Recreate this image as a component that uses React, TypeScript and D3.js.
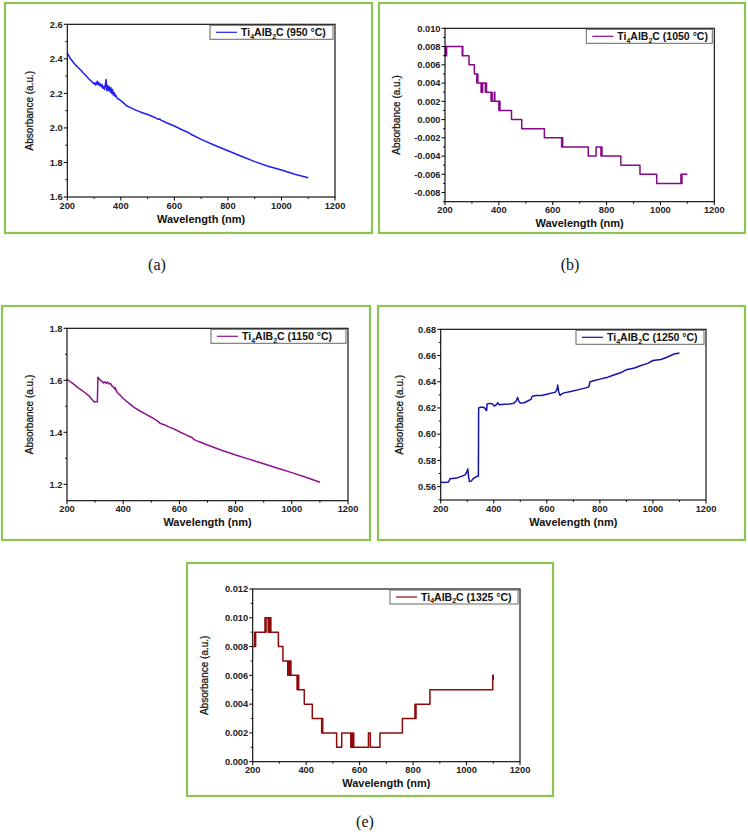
import React from 'react';
import * as d3 from 'd3';

// ---------- DATA ----------
const X_TICKS = [200, 400, 600, 800, 1000, 1200];

const wlA = [200, 205, 210, 220, 230, 240, 250, 260, 270, 280, 290, 295, 300, 303, 306, 309, 312, 315, 318, 321, 324, 327, 330, 333, 336, 339, 342, 345, 348, 351, 354, 357, 360, 363, 366, 369, 372, 375, 378, 381, 385, 390, 400, 410, 420, 440, 460, 480, 500, 520, 530, 535, 540, 545, 550, 570, 600, 630, 650, 660, 700, 750, 800, 850, 900, 950, 1000, 1050, 1100];
const absA = [2.432, 2.42, 2.405, 2.385, 2.365, 2.35, 2.335, 2.318, 2.302, 2.285, 2.27, 2.262, 2.255, 2.262, 2.248, 2.258, 2.27, 2.25, 2.262, 2.245, 2.255, 2.238, 2.25, 2.23, 2.24, 2.222, 2.25, 2.28, 2.215, 2.245, 2.218, 2.238, 2.208, 2.232, 2.2, 2.222, 2.19, 2.205, 2.184, 2.19, 2.175, 2.168, 2.158, 2.145, 2.13, 2.115, 2.1, 2.088, 2.078, 2.065, 2.058, 2.054, 2.05, 2.052, 2.045, 2.03, 2.011, 1.988, 1.975, 1.965, 1.934, 1.9, 1.868, 1.836, 1.805, 1.778, 1.756, 1.732, 1.712];

const wlB = [200, 202, 204, 206, 264, 265, 266, 289, 309, 318, 320, 322, 334, 336, 338, 340, 350, 352, 354, 371, 373, 375, 383, 385, 400, 402, 404, 447, 485, 569, 633, 635, 637, 732, 761, 779, 781, 783, 853, 924, 986, 1076, 1078, 1080, 1100];
const absB = [0.007, 0.008, 0.007, 0.008, 0.007, 0.008, 0.007, 0.006, 0.005, 0.004, 0.005, 0.004, 0.003, 0.004, 0.003, 0.004, 0.003, 0.004, 0.003, 0.002, 0.003, 0.002, 0.003, 0.002, 0.001, 0.002, 0.001, 0.0, -0.001, -0.002, -0.003, -0.002, -0.003, -0.004, -0.003, -0.004, -0.003, -0.004, -0.005, -0.006, -0.007, -0.006, -0.007, -0.006, -0.006];

const wlC = [200, 220, 240, 260, 280, 292, 295, 300, 308, 309, 310, 315, 320, 325, 330, 335, 340, 345, 350, 355, 360, 365, 370, 372, 375, 380, 390, 400, 420, 440, 460, 480, 500, 520, 530, 540, 550, 560, 580, 600, 620, 640, 645, 650, 660, 680, 700, 750, 800, 850, 900, 950, 1000, 1050, 1100];
const absC = [1.604, 1.588, 1.571, 1.556, 1.538, 1.522, 1.518, 1.518, 1.518, 1.56, 1.612, 1.605, 1.598, 1.596, 1.59, 1.594, 1.588, 1.593, 1.586, 1.588, 1.578, 1.575, 1.566, 1.572, 1.56, 1.552, 1.542, 1.53, 1.512, 1.495, 1.482, 1.47, 1.458, 1.445, 1.436, 1.431, 1.428, 1.422, 1.413, 1.402, 1.392, 1.382, 1.38, 1.374, 1.368, 1.36, 1.351, 1.331, 1.313, 1.296, 1.279, 1.262, 1.245, 1.227, 1.208];

const wlD = [200, 215, 230, 235, 260, 280, 292, 298, 302, 305, 308, 315, 322, 330, 338, 342, 343, 350, 360, 366, 370, 373, 375, 385, 395, 402, 410, 415, 420, 440, 460, 475, 485, 490, 495, 500, 515, 530, 540, 545, 560, 580, 600, 620, 632, 638, 641, 645, 650, 655, 665, 690, 720, 750, 758, 763, 780, 800, 830, 850, 880, 900, 930, 950, 980, 1000, 1030, 1050, 1080, 1100];
const absD = [0.5633, 0.5632, 0.5635, 0.566, 0.5665, 0.568, 0.569, 0.571, 0.5735, 0.568, 0.564, 0.5642, 0.566, 0.567, 0.568, 0.568, 0.62, 0.6205, 0.6205, 0.62, 0.6185, 0.618, 0.623, 0.6235, 0.623, 0.6215, 0.6225, 0.624, 0.6225, 0.6228, 0.623, 0.6235, 0.6255, 0.628, 0.625, 0.6238, 0.624, 0.6255, 0.6265, 0.629, 0.6295, 0.6295, 0.6305, 0.6315, 0.632, 0.634, 0.6375, 0.632, 0.6295, 0.6305, 0.6315, 0.6325, 0.634, 0.6355, 0.636, 0.64, 0.641, 0.642, 0.6435, 0.645, 0.647, 0.6492, 0.6505, 0.652, 0.654, 0.6562, 0.657, 0.6585, 0.6612, 0.662];

const wlE = [200, 207, 209, 211, 246, 248, 250, 258, 260, 263, 266, 268, 296, 313, 331, 333, 336, 339, 343, 366, 369, 372, 393, 423, 458, 460, 462, 514, 533, 567, 570, 573, 576, 578, 633, 640, 676, 760, 807, 809, 811, 863, 1098, 1100];
const absE = [0.008, 0.009, 0.008, 0.009, 0.010, 0.009, 0.010, 0.009, 0.010, 0.009, 0.010, 0.009, 0.008, 0.007, 0.006, 0.007, 0.006, 0.007, 0.006, 0.005, 0.006, 0.005, 0.004, 0.003, 0.002, 0.003, 0.002, 0.001, 0.002, 0.001, 0.002, 0.001, 0.002, 0.001, 0.002, 0.001, 0.002, 0.003, 0.004, 0.003, 0.004, 0.005, 0.006, 0.0057];

const ticksA = [1.6, 1.8, 2.0, 2.2, 2.4, 2.6];
const ticksB = [-0.008, -0.006, -0.004, -0.002, 0.0, 0.002, 0.004, 0.006, 0.008, 0.010];
const ticksC = [1.2, 1.4, 1.6, 1.8];
const ticksD = [0.56, 0.58, 0.60, 0.62, 0.64, 0.66, 0.68];
const ticksE = [0.0, 0.002, 0.004, 0.006, 0.008, 0.010, 0.012];

const tempLabels = ['950', '1050', '1150', '1250', '1325'];
const captions = ['(a)', '(b)', '(e)'];

// ---------- LAYOUT ----------
type Cfg = {
  box: [number, number, number, number];
  plot: { l: number; r: number; t: number; b: number };
  yDomain: [number, number];
  yTicks: number[];
  fmt: string;
  wl: number[];
  vals: number[];
  step: boolean;
  color: string;
  temp: string;
  legendW: number;
  yTitleDx: number;
};

const GREEN = '#8dc356';
const FONT = "'Liberation Sans', Arial, sans-serif";

const panels: Cfg[] = [
  { box: [5, 3, 367, 230], plot: { l: 67.3, r: 335, t: 24.3, b: 197 }, yDomain: [1.6, 2.6], yTicks: ticksA, fmt: '.1f', wl: wlA, vals: absA, step: false, color: '#1e1ef5', temp: tempLabels[0], legendW: 123, yTitleDx: -34 },
  { box: [379, 3, 366, 230], plot: { l: 445, r: 714.3, t: 28.3, b: 201.7 }, yDomain: [-0.009, 0.010], yTicks: ticksB, fmt: '.3f', wl: wlB, vals: absB, step: true, color: '#86088a', temp: tempLabels[1], legendW: 126, yTitleDx: -45 },
  { box: [2, 306, 368, 234], plot: { l: 67, r: 348, t: 328.3, b: 500.7 }, yDomain: [1.137, 1.8], yTicks: ticksC, fmt: '.1f', wl: wlC, vals: absC, step: false, color: '#8e128e', temp: tempLabels[2], legendW: 135, yTitleDx: -34 },
  { box: [378, 306, 367, 234], plot: { l: 440.7, r: 706, t: 329.3, b: 500 }, yDomain: [0.5498, 0.68], yTicks: ticksD, fmt: '.2f', wl: wlD, vals: absD, step: false, color: '#1414a8', temp: tempLabels[3], legendW: 128, yTitleDx: -38 },
  { box: [187, 563, 366, 233], plot: { l: 252.7, r: 520, t: 589, b: 761.7 }, yDomain: [0, 0.012], yTicks: ticksE, fmt: '.3f', wl: wlE, vals: absE, step: true, color: '#8e0a0a', temp: tempLabels[4], legendW: 128, yTitleDx: -45 },
];

const captionPos: [number, number][] = [[157, 270], [570, 270], [365, 827]];

function Panel({ c }: { c: Cfg }) {
  const { plot } = c;
  const x = d3.scaleLinear().domain([200, 1200]).range([plot.l, plot.r]);
  const y = d3.scaleLinear().domain(c.yDomain).range([plot.b, plot.t]);
  const pts = c.wl.map((w, i) => [w, c.vals[i]] as [number, number]);
  const line = d3
    .line<[number, number]>()
    .x((d) => x(d[0]))
    .y((d) => y(d[1]))
    .curve(c.step ? d3.curveStepAfter : d3.curveLinear);
  const f = d3.format(c.fmt);
  const fmt = (v: number) => f(v).replace('\u2212', '-');
  const yStep = c.yTicks[1] - c.yTicks[0];
  const yMinor: number[] = [];
  c.yTicks.forEach((t) => {
    const m = t + yStep / 2;
    if (m <= c.yDomain[1] + 1e-9) yMinor.push(m);
    const m2 = t - yStep / 2;
    if (t === c.yTicks[0] && m2 >= c.yDomain[0] - 1e-9) yMinor.push(m2);
  });
  const xMinor = [300, 500, 700, 900, 1100];
  const [bx, by, bw, bh] = c.box;
  const lgR = plot.r - 2;
  const lgT = plot.t + 1;
  const lgL = lgR - c.legendW;
  const lgH = 14;
  return (
    <g>
      <rect x={bx} y={by} width={bw} height={bh} fill="none" stroke={GREEN} strokeWidth={2.2} />
      <path d={line(pts) || ''} fill="none" stroke={c.color} strokeWidth={1.5} strokeLinejoin="round" />
      <rect x={plot.l} y={plot.t} width={plot.r - plot.l} height={plot.b - plot.t} fill="none" stroke="#000" strokeWidth={1.1} />
      {c.yTicks.map((t) => (
        <g key={'y' + t}>
          <line x1={plot.l - 3.5} x2={plot.l} y1={y(t)} y2={y(t)} stroke="#000" strokeWidth={1} />
          <text x={plot.l - 4.5} y={y(t) + 3.3} textAnchor="end" fontFamily={FONT} fontWeight="bold" fontSize={9.3} fill="#222">
            {fmt(t)}
          </text>
        </g>
      ))}
      {yMinor.map((t) => (
        <line key={'ym' + t} x1={plot.l - 2} x2={plot.l} y1={y(t)} y2={y(t)} stroke="#000" strokeWidth={0.9} />
      ))}
      {X_TICKS.map((t) => (
        <g key={'x' + t}>
          <line x1={x(t)} x2={x(t)} y1={plot.b} y2={plot.b + 3.5} stroke="#000" strokeWidth={1} />
          <text x={x(t)} y={plot.b + 11.5} textAnchor="middle" fontFamily={FONT} fontWeight="bold" fontSize={9.3} fill="#222">
            {t}
          </text>
        </g>
      ))}
      {xMinor.map((t) => (
        <line key={'xm' + t} x1={x(t)} x2={x(t)} y1={plot.b} y2={plot.b + 2} stroke="#000" strokeWidth={0.9} />
      ))}
      <text x={(plot.l + plot.r) / 2} y={plot.b + 25.5} textAnchor="middle" fontFamily={FONT} fontWeight="bold" fontSize={11} fill="#111">
        Wavelength (nm)
      </text>
      <text
        transform={`translate(${plot.l + c.yTitleDx},${(plot.t + plot.b) / 2}) rotate(-90)`}
        textAnchor="middle"
        fontFamily={FONT}
        fontSize={10}
        fill="#111"
        stroke="#111"
        strokeWidth={0.25}
      >
        Absorbance (a.u.)
      </text>
      <rect x={lgL} y={lgT} width={c.legendW} height={lgH} fill="#fff" stroke="#666" strokeWidth={1} />
      <line x1={lgL + 6} x2={lgL + 27} y1={lgT + lgH / 2} y2={lgT + lgH / 2} stroke={c.color} strokeWidth={1.2} />
      <text x={lgL + 31} y={lgT + 10.8} fontFamily={FONT} fontWeight="bold" fontSize={10.5} fill="#111">
        Ti
        <tspan dy={2.5} fontSize={7}>4</tspan>
        <tspan dy={-2.5}>AlB</tspan>
        <tspan dy={2.5} fontSize={7}>2</tspan>
        <tspan dy={-2.5}>{`C (${c.temp} \u00B0C)`}</tspan>
      </text>
    </g>
  );
}

export default function App() {
  return (
    <svg
      width={748}
      height={838}
      viewBox="0 0 748 838"
      style={{ position: 'absolute', left: 0, top: 0, background: '#fff' }}
    >
      <rect x={0} y={0} width={748} height={838} fill="#fff" />
      {panels.map((c, i) => (
        <Panel key={i} c={c} />
      ))}
      {captions.map((t, i) => (
        <text key={t} x={captionPos[i][0]} y={captionPos[i][1]} textAnchor="middle" fontFamily="'Liberation Serif', 'Times New Roman', serif" fontSize={16} fill="#111">
          {t}
        </text>
      ))}
    </svg>
  );
}
